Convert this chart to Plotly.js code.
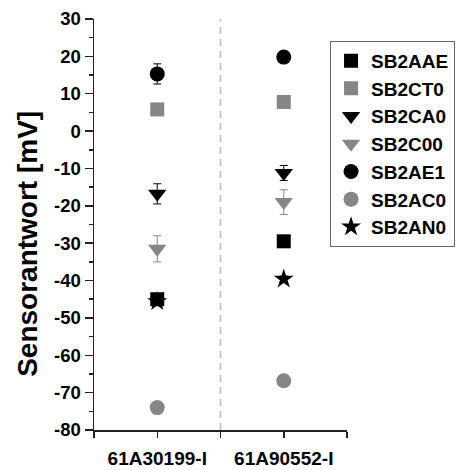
<!DOCTYPE html>
<html>
<head>
<meta charset="utf-8">
<script src="https://cdn.plot.ly/plotly-3.0.1.min.js"></script>
<style>html,body{margin:0;padding:0;background:#fff;}#chart{width:467px;height:470px;}</style>
</head>
<body>
<div id="chart"></div>
<script>
// ---- data ----
const categories = ['61A30199-I', '61A90552-I'];
const seriesNames = ['SB2AAE', 'SB2CT0', 'SB2CA0', 'SB2C00', 'SB2AE1', 'SB2AC0', 'SB2AN0'];
const SB2AAE = [-45.0, -29.5];
const SB2CT0 = [5.8, 7.8];
const SB2CA0 = [-16.8, -11.2];
const SB2C00 = [-31.5, -19.0];
const SB2AE1 = [15.3, 19.8];
const SB2AC0 = [-74.0, -66.8];
const SB2AN0 = [-45.6, -39.6];
const SB2AAE_err = [0.8, 0.8];
const SB2CT0_err = [0.6, 0.6];
const SB2CA0_err = [2.7, 2.0];
const SB2C00_err = [3.5, 3.3];
const SB2AE1_err = [2.7, 0.8];
const SB2AC0_err = [0.6, 0.6];
const SB2AN0_err = [0.8, 0.8];
const yTicks = [-80, -70, -60, -50, -40, -30, -20, -10, 0, 10, 20, 30];

const values = [SB2AAE, SB2CT0, SB2CA0, SB2C00, SB2AE1, SB2AC0, SB2AN0];
const errors = [SB2AAE_err, SB2CT0_err, SB2CA0_err, SB2C00_err, SB2AE1_err, SB2AC0_err, SB2AN0_err];

// ---- styles ----
const BLACK = '#000000', GRAY = '#868686';
const styles = [
  {symbol: 'square', color: BLACK, size: 14},
  {symbol: 'square', color: GRAY, size: 14},
  {symbol: 'triangle-down', color: BLACK, size: 16},
  {symbol: 'triangle-down', color: GRAY, size: 16},
  {symbol: 'circle', color: BLACK, size: 15},
  {symbol: 'circle', color: GRAY, size: 15},
  {symbol: 'star', color: BLACK, size: 15}
];
const xIdx = categories.map((c, i) => i);

const traces = seriesNames.map((name, k) => ({
  type: 'scatter', mode: 'markers', name: name,
  x: xIdx, y: values[k],
  marker: {symbol: styles[k].symbol, color: styles[k].color, size: styles[k].size, line: {width: 0}},
  error_y: {type: 'data', array: errors[k], visible: true, color: styles[k].color, thickness: 1, width: 4},
  hoverinfo: 'name+y'
}));

const FONT = '"Liberation Sans", Arial, sans-serif';
const layout = {
  width: 467, height: 470,
  margin: {l: 94, r: 120, t: 19, b: 40, autoexpand: false},
  paper_bgcolor: '#fff', plot_bgcolor: '#fff',
  font: {family: FONT, color: '#000'},
  showlegend: true,
  legend: {
    x: 0.933, y: 0.947, xanchor: 'left', yanchor: 'top',
    bgcolor: '#fff', bordercolor: '#666', borderwidth: 1,
    font: {family: FONT, size: 19, color: '#000', weight: 'bold'},
    tracegroupgap: 0
  },
  xaxis: {
    range: [-0.5, 1.5], showgrid: false, zeroline: false,
    showline: true, linecolor: '#222', linewidth: 1.5,
    ticks: 'outside', ticklen: 6, tickwidth: 1.5, tickcolor: '#222',
    tickmode: 'array',
    tickvals: [-0.5, 0, 0.5, 1, 1.5],
    ticktext: ['', categories[0], '', categories[1], ''],
    tickfont: {family: FONT, size: 19, color: '#000', weight: 'bold'},
    ticklabelstandoff: 5
  },
  yaxis: {
    range: [-80, 30], showgrid: false, zeroline: false,
    showline: true, linecolor: '#222', linewidth: 1.5,
    ticks: 'outside', ticklen: 8, tickwidth: 1.5, tickcolor: '#222',
    tickmode: 'array', tickvals: yTicks, ticktext: yTicks.map(String),
    minor: {dtick: 5, ticks: 'outside', ticklen: 4, tickwidth: 1.5, tickcolor: '#222'},
    tickfont: {family: FONT, size: 18.5, color: '#000', weight: 'bold'}
  },
  shapes: [{
    type: 'line', xref: 'x', yref: 'paper', x0: 0.5, x1: 0.5, y0: 0, y1: 1,
    line: {color: '#bdbdbd', width: 1.5, dash: '7px,5px'}
  }],
  annotations: [{
    text: 'Sensorantwort [mV]', xref: 'paper', yref: 'paper',
    x: -0.263, y: 0.454, xanchor: 'center', yanchor: 'middle',
    textangle: -90, showarrow: false,
    font: {family: FONT, size: 28, color: '#000', weight: 'bold'}
  }]
};

Plotly.newPlot('chart', traces, layout, {staticPlot: true, displayModeBar: false});
</script>
</body>
</html>
